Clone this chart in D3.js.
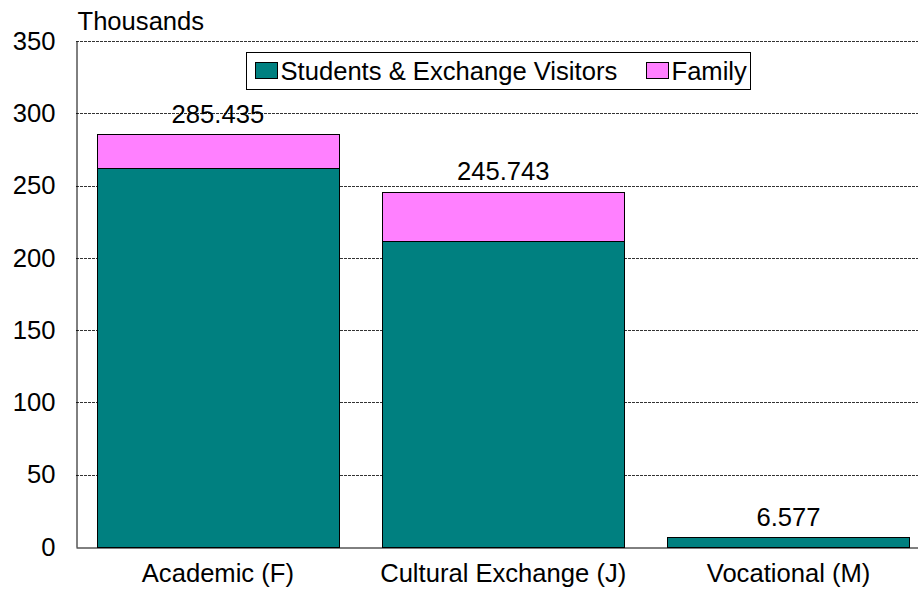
<!DOCTYPE html>
<html lang="en">
<head>
<meta charset="UTF-8">
<title>Students and Exchange Visitors</title>
<script src="https://d3js.org/d3.v7.min.js"></script>
<style>
    body { margin: 0; background: #fff; }
    text { font-family: "Liberation Sans", Arial, sans-serif; fill: #000; }
</style>
</head>
<body>
<script>

    var categories = ["Academic (F)", "Cultural Exchange (J)", "Vocational (M)"];
    var students = [262.0, 211.7, 6.577];
    var family = [23.435, 34.043, 0];
    var totals = ["285.435", "245.743", "6.577"];
    var yTicks = [0, 50, 100, 150, 200, 250, 300, 350];
    var seriesNames = ["Students & Exchange Visitors", "Family"];

    var width = 918;
    var height = 590;
    var fontSize = "25.6px";

    var margin = {
        top: 41,
        left: 76,
        bottom: 547,
        right: 930.4
    };

    var colors = ["#008080", "#ff80ff"];

    var svg = d3.select("body").append("svg")
        .attr("width", width)
        .attr("height", height);

    var xScale = d3.scaleBand()
        .domain(categories)
        .range([margin.left, margin.right])
        .paddingInner(0.1507)
        .paddingOuter(0.0726);

    var yScale = d3.scaleLinear()
        .domain([0, 350])
        .range([margin.bottom, margin.top]);

    // grid lines
    svg.append("g")
        .selectAll("line")
        .data(yTicks.filter(function (d) { return d > 0; }))
        .enter().append("line")
        .attr("x1", margin.left)
        .attr("x2", width)
        .attr("y1", function (d) { return Math.round(yScale(d)) + 0.5; })
        .attr("y2", function (d) { return Math.round(yScale(d)) + 0.5; })
        .attr("stroke", "#333")
        .attr("stroke-width", 1)
        .attr("stroke-dasharray", "3,1");

    // stacked bars
    var stackData = categories.map(function (c, i) {
        return {cat: c, s: students[i], f: family[i]};
    });
    var stack = d3.stack().keys(["s", "f"]);
    var layers = stack(stackData);

    layers.forEach(function (layer, k) {
        svg.append("g")
            .selectAll("rect")
            .data(layer.filter(function (d) { return d[1] > d[0]; }))
            .enter().append("rect")
            .attr("x", function (d) { return Math.round(xScale(d.data.cat)) + 0.5; })
            .attr("y", function (d) { return Math.round(yScale(d[1])) + 0.5; })
            .attr("width", Math.round(xScale.bandwidth()))
            .attr("height", function (d) { return Math.round(yScale(d[0])) - Math.round(yScale(d[1])); })
            .attr("fill", colors[k])
            .attr("stroke", "#000")
            .attr("stroke-width", 1);
    });

    // value labels
    svg.append("g")
        .selectAll("text")
        .data(categories)
        .enter().append("text")
        .attr("x", function (d) { return xScale(d) + xScale.bandwidth() / 2; })
        .attr("y", function (d, i) { return yScale(students[i] + family[i]) - 11.5; })
        .attr("text-anchor", "middle")
        .attr("font-size", fontSize)
        .text(function (d, i) { return totals[i]; });

    // axes
    var yAxis = d3.axisLeft(yScale).tickValues(yTicks).tickSize(0).tickPadding(21);
    var gy = svg.append("g")
        .attr("transform", "translate(" + (margin.left + 0.5) + ",0)")
        .call(yAxis);
    gy.select(".domain").attr("stroke", "#000");
    gy.selectAll("text").attr("font-size", fontSize)
        .attr("font-family", "Liberation Sans, Arial, sans-serif");

    var xAxis = d3.axisBottom(xScale).tickSize(0).tickPadding(16);
    var gx = svg.append("g")
        .attr("transform", "translate(0," + (margin.bottom + 0.5) + ")")
        .call(xAxis);
    gx.select(".domain").attr("stroke", "#000");
    gx.selectAll("text").attr("font-size", fontSize)
        .attr("font-family", "Liberation Sans, Arial, sans-serif");

    svg.append("text")
        .attr("x", 77.5)
        .attr("y", 30)
        .attr("font-size", fontSize)
        .text("Thousands");

    // legend
    var legend = svg.append("g").attr("transform", "translate(246.5,52.5)");
    legend.append("rect")
        .attr("width", 504)
        .attr("height", 37)
        .attr("fill", "#fff")
        .attr("stroke", "#000");
    var legendX = [9, 400];
    seriesNames.forEach(function (name, k) {
        legend.append("rect")
            .attr("x", legendX[k])
            .attr("y", 10)
            .attr("width", 22)
            .attr("height", 16)
            .attr("fill", colors[k])
            .attr("stroke", "#000");
        legend.append("text")
            .attr("x", legendX[k] + 25)
            .attr("y", 27)
            .attr("font-size", fontSize)
            .text(name);
    });

</script>
</body>
</html>
